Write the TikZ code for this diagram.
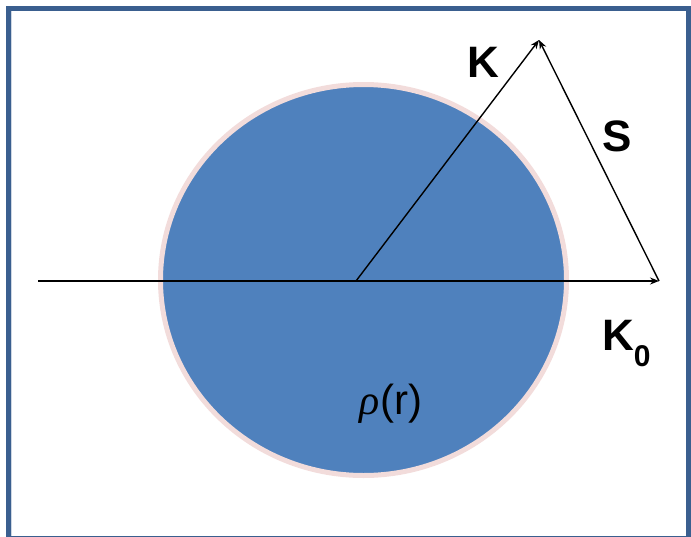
\documentclass[tikz,border=0pt]{standalone}
\usepackage{fontspec}
\setmainfont{Liberation Sans}
\newfontfamily\rhofont{Liberation Serif}
\usetikzlibrary{arrows.meta}
\definecolor{framecol}{HTML}{3A5F8F}
\definecolor{discfill}{HTML}{4F81BD}
\definecolor{discedge}{HTML}{F2DCDB}
\begin{document}
\begin{tikzpicture}[x=1pt,y=-1pt,
  vec/.style={draw=black,line width=1.4pt,-{Stealth[length=9pt,width=7pt,inset=3pt]}},
  lbl/.style={font=\fontsize{44}{44}\selectfont\bfseries,inner sep=0pt}]
\useasboundingbox (0,0) rectangle (691,536);
\draw[framecol,line width=5pt] (8.5,8.5) rectangle (688.5,538);
\draw[white!75!framecol,line width=0.8pt] (11.4,11.4) -- (11.4,536);
% disc
\draw[discedge,fill=discfill,line width=5pt] (363.5,280) ellipse [x radius=203, y radius=195.5];
% coordinates
\coordinate (start) at (38,281);
\coordinate (o) at (356,281);
\coordinate (k0) at (659,281);
\coordinate (kt) at (539,40);
% vectors
\draw[vec] (start) -- (k0);
\draw[vec] (o) -- (kt);
\draw[vec] (k0) -- (kt);
% labels
\node[lbl] (lk) at (483,62) {K};
\node[lbl] (ls) at (617,136) {S};
\node[lbl,anchor=base west] (lk0) at (602,350) {K\raisebox{-0.7ex}{\fontsize{30}{30}\selectfont 0}};
\node[inner sep=0pt,anchor=base] (rho) at (391,414) {\fontsize{42}{42}\selectfont{\rhofont\itshape ρ}(r)};
\end{tikzpicture}
\end{document}
